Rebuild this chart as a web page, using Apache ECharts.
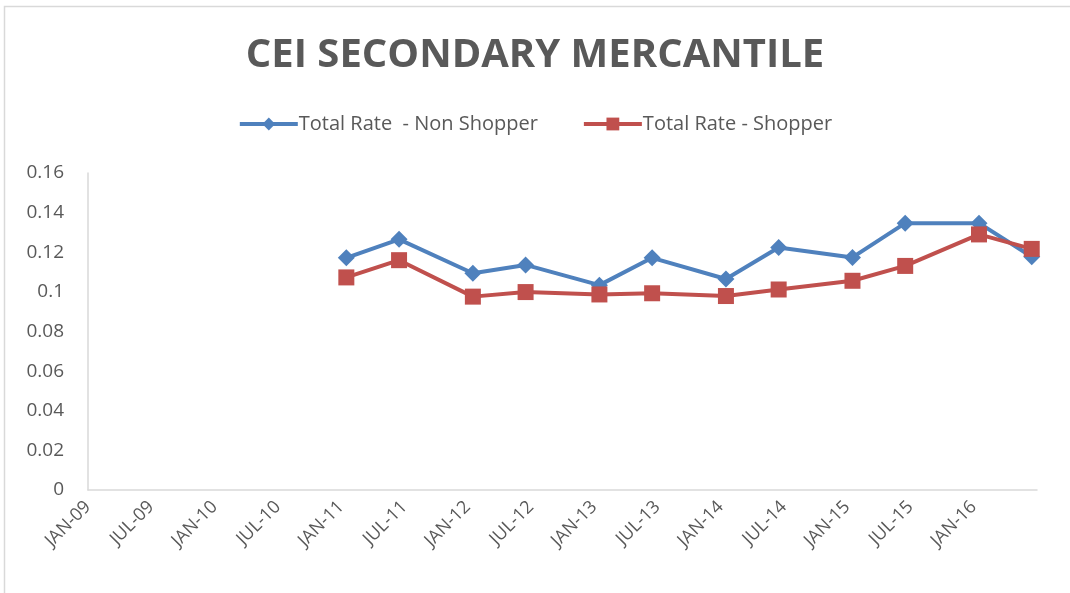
<!DOCTYPE html>
<html>
<head>
<meta charset="utf-8">
<script src="https://cdn.jsdelivr.net/npm/echarts@6/dist/echarts.min.js"></script>
<style>
  html, body { margin: 0; padding: 0; background: #fff; }
  #chart { width: 1070px; height: 593px; }
</style>
</head>
<body>
<div id="chart"></div>
<script>
// ---- data ----
const titleText = 'CEI SECONDARY MERCANTILE';
const seriesNames = ['Total Rate  - Non Shopper', 'Total Rate - Shopper'];
const dates = ['2011-01','2011-06','2012-01','2012-06','2013-01','2013-06',
               '2014-01','2014-06','2015-01','2015-06','2016-01','2016-06'];
const nonShopper = [0.1172, 0.1265, 0.1094, 0.1136, 0.1034, 0.1172,
                    0.1065, 0.1224, 0.1174, 0.1347, 0.1347, 0.1177];
const shopper    = [0.1073, 0.1160, 0.0976, 0.0999, 0.0987, 0.0993,
                    0.0979, 0.1012, 0.1056, 0.1131, 0.1290, 0.1217];
const monthNames = ['JAN','FEB','MAR','APR','MAY','JUN','JUL','AUG','SEP','OCT','NOV','DEC'];
const axisStart = '2009-01';
const axisEnd = '2016-07';
const yTicks = [0, 0.02, 0.04, 0.06, 0.08, 0.1, 0.12, 0.14, 0.16];

// ---- helpers ----
function monthIndex(s) {
  const [y, m] = s.split('-').map(Number);
  const [y0, m0] = axisStart.split('-').map(Number);
  return (y - y0) * 12 + (m - m0);
}
function monthLabel(idx) {
  const [y0, m0] = axisStart.split('-').map(Number);
  const t = (m0 - 1) + Math.round(idx);
  const y = y0 + Math.floor(t / 12);
  const m = t % 12;
  return monthNames[m] + '-' + String(y % 100).padStart(2, '0');
}
const pts = arr => dates.map((d, i) => [monthIndex(d) + 0.5, arr[i]]);

const textColor = '#595959';
const font = '"Open Sans", "Noto Sans", sans-serif';

const chart = echarts.init(document.getElementById('chart'), null, { renderer: 'canvas' });
chart.setOption({
  backgroundColor: '#ffffff',
  animation: false,
  graphic: [{
    type: 'rect',
    shape: { x: 4.5, y: 6.5, width: 1200, height: 800 },
    style: { fill: 'none', stroke: '#d9d9d9', lineWidth: 1.5 },
    silent: true
  }],
  title: {
    text: titleText,
    left: 'center',
    top: 31,
    textStyle: { fontFamily: font, fontWeight: 'bold', fontSize: 40, color: textColor }
  },
  legend: {
    top: 109,
    left: 'center',
    itemWidth: 58,
    itemHeight: 16,
    itemGap: 44,
    lineStyle: { width: 4 },
    textStyle: { fontFamily: font, fontSize: 20, color: textColor, padding: [0, 0, 0, -4] },
    data: seriesNames
  },
  grid: { left: 88, right: 33, top: 173, bottom: 103, containLabel: false },
  xAxis: {
    type: 'value',
    min: 0,
    max: monthIndex(axisEnd),
    interval: 6,
    axisLine: { show: true, lineStyle: { color: '#d9d9d9', width: 1.5 } },
    axisTick: { show: false },
    splitLine: { show: false },
    axisLabel: {
      rotate: 45,
      margin: 14,
      showMaxLabel: false,
      fontFamily: font,
      fontSize: 18,
      color: textColor,
      formatter: v => monthLabel(v)
    }
  },
  yAxis: {
    type: 'value',
    min: yTicks[0],
    max: yTicks[yTicks.length - 1],
    interval: 0.02,
    axisLine: { show: true, lineStyle: { color: '#d9d9d9', width: 1.5 } },
    axisTick: { show: false },
    splitLine: { show: false },
    axisLabel: {
      margin: 24,
      fontFamily: font,
      fontSize: 19,
      color: textColor,
      formatter: v => String(parseFloat(v.toFixed(2)))
    }
  },
  series: [
    {
      name: seriesNames[0],
      type: 'line',
      data: pts(nonShopper),
      symbol: 'diamond',
      symbolSize: 17,
      lineStyle: { color: '#4f81bd', width: 4 },
      itemStyle: { color: '#4f81bd' }
    },
    {
      name: seriesNames[1],
      type: 'line',
      data: pts(shopper),
      symbol: 'rect',
      symbolSize: 16,
      lineStyle: { color: '#c0504d', width: 4 },
      itemStyle: { color: '#c0504d' }
    }
  ]
});
</script>
</body>
</html>
